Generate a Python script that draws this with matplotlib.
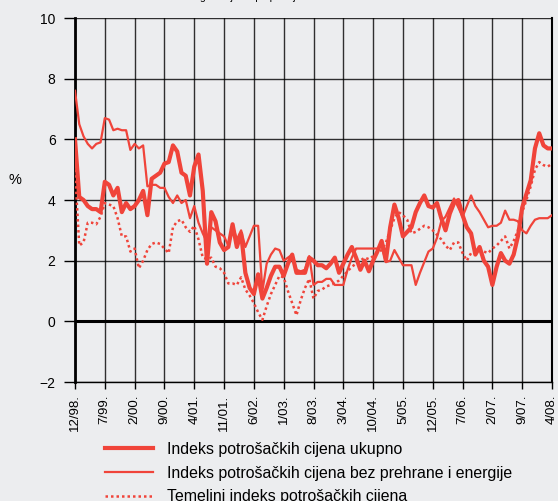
import matplotlib
matplotlib.use('Agg')
import matplotlib.pyplot as plt
from matplotlib.lines import Line2D

plt.rcParams['font.family'] = ['Liberation Sans', 'DejaVu Sans']

# monthly, 12/1998 .. 4/2008
tick_labels = ['12/98.', '7/99.', '2/00.', '9/00.', '4/01.', '11/01.', '6/02.', '1/03.', '8/03.',
               '3/04.', '10/04.', '5/05.', '12/05.', '7/06.', '2/07.', '9/07.', '4/08.']

ukupno = [6.0, 4.1, 4.0, 3.8, 3.7, 3.7, 3.6, 4.6, 4.5, 4.15, 4.4, 3.6, 3.9, 3.7, 3.8, 4.0,
          4.3, 3.5, 4.7, 4.8, 4.9, 5.2, 5.25, 5.8, 5.6, 4.9, 4.8, 4.15, 5.1, 5.5, 4.3, 1.9,
          3.6, 3.3, 2.6, 2.35, 2.45, 3.2, 2.45, 2.9, 1.6, 1.1, 0.9, 1.55, 0.75, 1.1, 1.5, 1.8,
          1.8, 1.5, 1.9, 2.2, 1.6, 1.6, 1.6, 2.1, 2.0, 1.85, 1.85, 1.75, 1.9, 2.1, 1.6, 1.9,
          2.2, 2.45, 2.1, 1.7, 2.0, 1.65, 2.0, 2.3, 2.65, 2.0, 3.1, 3.85, 3.4, 2.8, 2.95, 3.1,
          3.6, 3.9, 4.15, 3.8, 3.75, 3.9, 3.4, 3.0, 3.55, 3.9, 4.0, 3.5, 3.1, 2.9, 2.2, 2.45,
          2.0, 1.8, 1.2, 1.8, 2.25, 2.0, 1.9, 2.2, 2.8, 3.75, 4.2, 4.65, 5.7, 6.2, 5.8, 5.7, 5.7]

bez_hrane_energije = [7.6, 6.5, 6.1, 5.85, 5.7, 5.85, 5.9, 6.7, 6.65, 6.3, 6.35, 6.3, 6.3, 5.65,
                      5.85, 5.7, 5.8, 4.45, 4.5, 4.5, 4.4, 4.4, 4.1, 3.9, 4.15, 3.9, 4.0, 3.4,
                      3.8, 3.25, 2.9, 2.6, 3.1, 3.0, 2.9, 2.8, 2.5, 3.15, 2.7, 3.0, 2.45, 2.8,
                      3.15, 3.15, 1.0, 1.9, 2.2, 2.4, 2.35, 2.0, 2.1, 2.2, 1.7, 1.65, 1.7, 2.15,
                      1.2, 1.3, 1.3, 1.4, 1.4, 1.2, 1.2, 1.2, 1.7, 2.1, 2.4, 2.4, 2.4, 2.4, 2.4,
                      2.4, 2.5, 1.95, 2.0, 2.35, 2.1, 1.85, 1.85, 1.85, 1.2, 1.6, 1.95, 2.3, 2.4,
                      2.75, 3.3, 3.45, 3.75, 4.05, 3.75, 3.45, 3.8, 4.15, 3.8, 3.6, 3.35, 3.1,
                      3.15, 3.15, 3.25, 3.65, 3.35, 3.35, 3.3, 3.0, 2.9, 3.15, 3.35, 3.4, 3.4,
                      3.4, 3.5]

temeljni = [5.0, 2.5, 2.6, 3.25, 3.25, 3.2, 3.45, 3.9, 3.85, 3.8, 3.4, 2.8, 2.8, 2.3, 2.4, 1.75,
            2.0, 2.35, 2.55, 2.6, 2.55, 2.4, 2.25, 3.1, 3.3, 3.35, 3.1, 2.95, 3.15, 2.7, 2.1,
            2.05, 2.1, 1.8, 1.75, 1.6, 1.25, 1.25, 1.2, 1.45, 1.05, 0.85, 0.6, 0.3, 0.05, 0.5,
            0.9, 1.2, 1.5, 1.45, 1.0, 0.6, 0.2, 0.7, 1.1, 1.4, 0.75, 1.0, 1.05, 1.15, 1.2, 1.25,
            1.35, 1.5, 1.65, 1.8, 1.9, 2.0, 2.1, 2.05, 2.15, 2.25, 2.35, 2.6, 3.0, 3.4, 3.6,
            3.5, 3.35, 2.9, 2.95, 3.05, 3.15, 3.1, 3.0, 2.85, 2.7, 2.5, 2.35, 2.6, 2.6, 2.25,
            2.0, 2.25, 2.3, 2.35, 2.3, 2.25, 2.4, 2.5, 2.65, 2.8, 2.4, 2.65, 3.0, 3.6, 4.0,
            4.45, 5.0, 5.25, 5.15, 5.1, 5.2]

months = list(range(len(ukupno)))
red = '#F0443A'
bg = '#ECEDEF'
dots = (0, (1, 1.2))

fig = plt.figure(figsize=(5.58, 5.01), dpi=100, facecolor=bg)
ax = fig.add_axes([75/558, 1-382/501, 477/558, 364/501], facecolor=bg)

ax.plot(months, bez_hrane_energije, color=red, lw=1.6, zorder=3)
ax.plot(months, temeljni, color=red, lw=1.8, ls=dots, zorder=3)
ax.plot(months, ukupno, color=red, lw=3.0, zorder=4)

ax.set_xlim(0, 112)
ax.set_ylim(-2, 10)
ax.set_yticks(range(-2, 11, 2))
ax.set_xticks(range(0, 113, 7))
ax.set_xticklabels(tick_labels, rotation=90, fontsize=9.5)
ax.tick_params(axis='y', labelsize=10, length=8, width=1, pad=6)
ax.tick_params(axis='x', length=5, width=1, pad=4)
ax.grid(True, color='black', lw=1.0, alpha=0.8)
ax.axhline(0, color='black', lw=2.2, zorder=2)
ax.spines['top'].set_visible(False)
ax.spines['left'].set_linewidth(2)
ax.spines['right'].set_linewidth(1.5)
ax.spines['bottom'].set_linewidth(1)

fig.text(15/558, 1-180/501, '%', fontsize=10.5, ha='center', va='center')
# title sits above the picture, only its descenders show (as in the source)
fig.text(200/558, 1.0, 'godišnja stopa promjene', fontsize=7.5, ha='left', va='baseline')

handles = [Line2D([], [], color=red, lw=3.0),
           Line2D([], [], color=red, lw=1.6),
           Line2D([], [], color=red, lw=1.8, ls=dots)]
labels = ['Indeks potrošačkih cijena ukupno',
          'Indeks potrošačkih cijena bez prehrane i energije',
          'Temeljni indeks potrošačkih cijena']
fig.legend(handles, labels, loc='upper left', bbox_to_anchor=(105/558, 1-442/501),
           frameon=False, borderaxespad=0, borderpad=0, fontsize=11.4,
           handlelength=3.0, handletextpad=0.9, labelspacing=0.55)

fig.savefig('out.png', dpi=100, facecolor=bg)
